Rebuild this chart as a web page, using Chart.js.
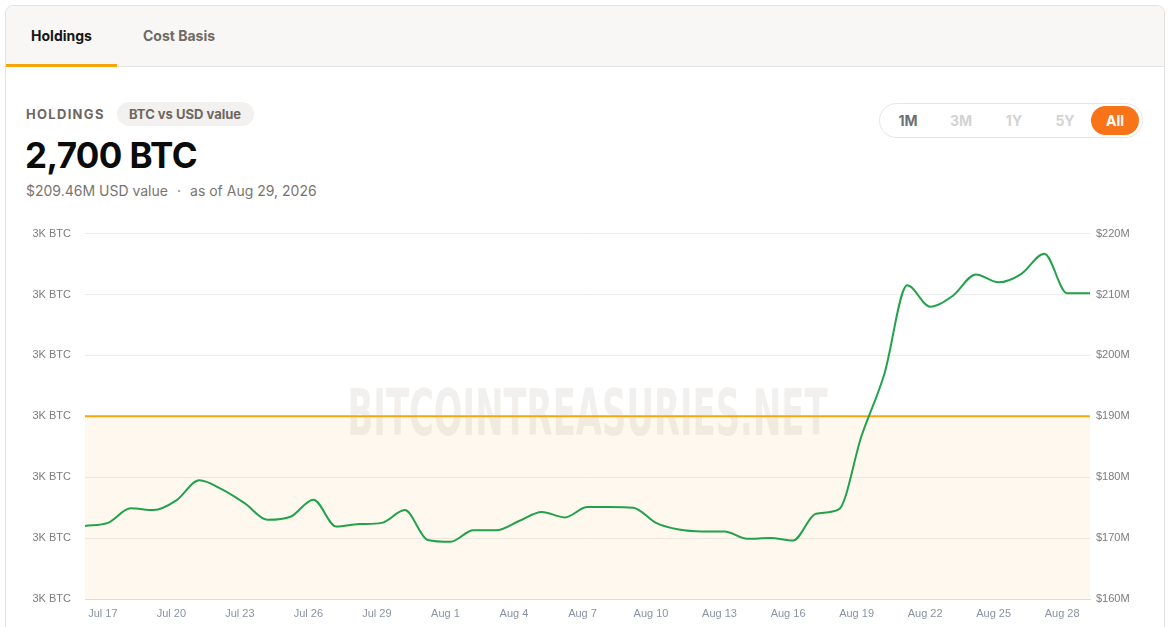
<!DOCTYPE html>
<html>
<head>
<meta charset="utf-8">
<script src="https://cdn.jsdelivr.net/npm/chart.js@4"></script>
<style>
  html, body { margin: 0; padding: 0; background: #fff; }
  body { width: 1169px; height: 627px; overflow: hidden; position: relative; font-family: Inter, "Noto Sans", sans-serif; }
  .card { position: absolute; left: 5px; top: 5px; width: 1158px; height: 640px; border: 1px solid #e4e3e1; border-radius: 8px; overflow: hidden; background: #fff; }
  .tabs { height: 60px; background: #f8f7f5; border-bottom: 1px solid #e6e5e3; position: relative; }
  .tab { position: absolute; top: 0; height: 60px; line-height: 60px; font-size: 14px; font-weight: 700; color: #6f6a64; }
  .tab.active { color: #161616; left: 0; width: 111px; text-align: center; border-bottom: 3px solid #f5a50a; box-sizing: border-box; height: 61px; }
  .label { position: absolute; left: 26px; top: 106px; font-size: 13px; font-weight: 700; letter-spacing: 1.3px; color: #6d6761; }
  .badge { position: absolute; left: 117px; top: 102px; height: 24px; line-height: 24px; padding: 0 13px 0 12px; border-radius: 12px; background: #f2f1ef; font-size: 13px; font-weight: 700; color: #6d6761; }
  .big { position: absolute; left: 25px; top: 134px; font-size: 35px; font-weight: 700; color: #0b0b0b; letter-spacing: -0.6px; }
  .sub { position: absolute; left: 26px; top: 182px; font-size: 14px; color: #7a746e; }
  .sub .dot { margin: 0 9px; }
  .toggle { position: absolute; left: 879px; top: 103px; width: 262px; height: 33px; border: 1px solid #e6e6e6; border-radius: 18px; }
  .btn { position: absolute; top: 0; height: 33px; line-height: 33px; font-size: 14px; font-weight: 700; color: #d3d3d3; text-align: center; width: 40px; }
  .btn.cur { color: #6b6f78; }
  .btn.all { background: #f97418; color: #fff; border-radius: 15px; top: 2px; height: 29px; line-height: 29px; width: 48px; }
  .chartbox { position: absolute; left: 6px; top: 213px; width: 1152px; height: 414px; }
</style>
</head>
<body>
<div class="card">
  <div class="tabs">
    <div class="tab active">Holdings</div>
    <div class="tab" style="left:137px">Cost Basis</div>
  </div>
</div>
<div class="label">HOLDINGS</div>
<div class="badge">BTC vs USD value</div>
<div class="big">2,700 BTC</div>
<div class="sub">$209.46M USD value<span class="dot">·</span>as of Aug 29, 2026</div>
<div class="toggle">
  <div class="btn cur" style="left:8px">1M</div>
  <div class="btn" style="left:61px">3M</div>
  <div class="btn" style="left:114px">1Y</div>
  <div class="btn" style="left:165px">5Y</div>
  <div class="btn all" style="left:211px">All</div>
</div>
<div class="chartbox"><canvas id="chart"></canvas></div>

<script>
const dates = [
  "Jul 16", "Jul 17", "Jul 18", "Jul 19", "Jul 20", "Jul 21", "Jul 22", "Jul 23",
  "Jul 24", "Jul 25", "Jul 26", "Jul 27", "Jul 28", "Jul 29", "Jul 30", "Jul 31",
  "Aug 1", "Aug 2", "Aug 3", "Aug 4", "Aug 5", "Aug 6", "Aug 7", "Aug 8",
  "Aug 9", "Aug 10", "Aug 11", "Aug 12", "Aug 13", "Aug 14", "Aug 15", "Aug 16",
  "Aug 17", "Aug 18", "Aug 19", "Aug 20", "Aug 21", "Aug 22", "Aug 23", "Aug 24",
  "Aug 25", "Aug 26", "Aug 27", "Aug 28", "Aug 29",
];

// USD value of holdings, $M
const usdValue = [
  172.0, 172.5, 174.9, 174.6, 176.2, 179.5, 178.0, 175.7,
  173.0, 173.5, 176.3, 171.9, 172.3, 172.5, 174.6, 169.7,
  169.4, 171.3, 171.3, 172.8, 174.3, 173.4, 175.1, 175.1,
  175.0, 172.5, 171.4, 171.1, 171.1, 169.9, 170.0, 169.6,
  174.0, 174.7, 186.8, 197.0, 211.5, 208.0, 209.8, 213.3,
  212.0, 213.4, 216.7, 210.2, 210.2,
];

// BTC held
const btcHeld = dates.map(() => 2700);

const tickedDates = [
  "Jul 17", "Jul 20", "Jul 23", "Jul 26", "Jul 29", "Aug 1", "Aug 4", "Aug 7",
  "Aug 10", "Aug 13", "Aug 16", "Aug 19", "Aug 22", "Aug 25", "Aug 28",
];

const watermark = {
  id: "watermark",
  beforeDatasetsDraw(chart) {
    const { ctx, chartArea } = chart;
    const cx = (chartArea.left + chartArea.right) / 2;
    const cy = (chartArea.top + chartArea.bottom) / 2;
    ctx.save();
    ctx.font = "bold 64px 'Liberation Sans Narrow', 'DejaVu Sans Condensed', sans-serif";
    const w = ctx.measureText("BITCOINTREASURIES.NET").width;
    ctx.translate(cx, cy);
    ctx.scale(480 / w, 1);
    ctx.fillStyle = "rgba(140, 128, 116, 0.12)";
    ctx.textAlign = "center";
    ctx.textBaseline = "middle";
    ctx.fillText("BITCOINTREASURIES.NET", 0, 2);
    ctx.restore();
  },
};

const tickFont = { family: "'Liberation Sans', Arial, sans-serif", size: 11 };

new Chart(document.getElementById("chart"), {
  type: "line",
  data: {
    labels: dates,
    datasets: [
      {
        label: "USD value",
        data: usdValue,
        yAxisID: "yUsd",
        borderColor: "#22a24a",
        borderWidth: 2,
        pointRadius: 0,
        cubicInterpolationMode: "monotone",
        fill: false,
      },
      {
        label: "Holdings",
        data: btcHeld,
        yAxisID: "yBtc",
        borderColor: "#f6a70d",
        borderWidth: 2,
        pointRadius: 0,
        backgroundColor: "rgba(245, 166, 35, 0.08)",
        fill: "start",
      },
    ],
  },
  options: {
    responsive: true,
    maintainAspectRatio: false,
    animation: false,
    layout: { padding: { top: 2, right: 0, left: 0, bottom: 0 } },
    plugins: { legend: { display: false }, tooltip: { enabled: false } },
    scales: {
      x: {
        grid: { display: false, drawTicks: false },
        border: { color: "#dcdcdc" },
        ticks: {
          autoSkip: false,
          maxRotation: 0,
          padding: 8,
          labelOffset: -5,
          color: "#8a93a2",
          font: tickFont,
          callback(value) {
            const d = dates[value];
            return tickedDates.includes(d) ? d : "";
          },
        },
        afterFit(axis) { axis.height = 28; },
      },
      yBtc: {
        position: "left",
        min: 2550,
        max: 2850,
        grid: { color: "#ececec", drawTicks: false },
        border: { display: false },
        ticks: {
          stepSize: 50,
          padding: 14,
          color: "#7c7c7c",
          font: tickFont,
          callback: (v) => Math.round(v / 1000) + "K BTC",
        },
        afterFit(axis) { axis.width = 79; },
      },
      yUsd: {
        position: "right",
        min: 160,
        max: 220,
        grid: { display: false, drawTicks: false },
        border: { display: false },
        ticks: {
          stepSize: 10,
          padding: 6,
          color: "#7c7c7c",
          font: tickFont,
          callback: (v) => "$" + v + "M",
        },
        afterFit(axis) { axis.width = 68; },
      },
    },
  },
  plugins: [watermark],
});
</script>
</body>
</html>
